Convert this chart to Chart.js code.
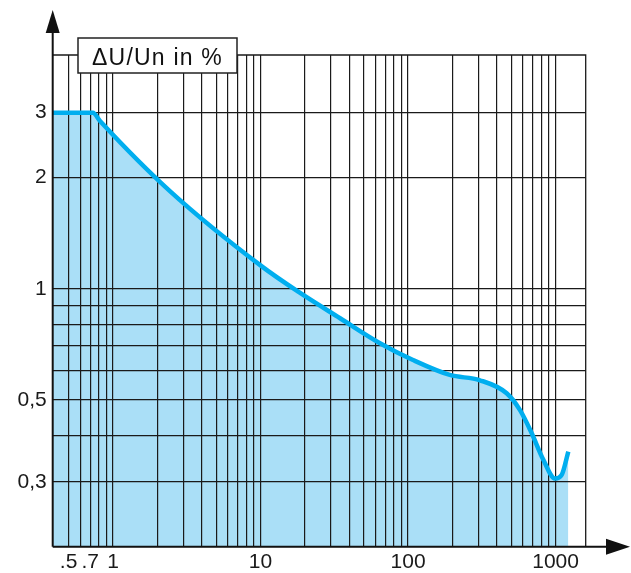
<!DOCTYPE html>
<html>
<head>
<meta charset="utf-8">
<script src="https://cdn.jsdelivr.net/npm/chart.js@4.4.1/dist/chart.umd.min.js"></script>
<style>
  html, body { margin: 0; padding: 0; background: #fff; }
  canvas { display: block; }
</style>
</head>
<body>
<canvas id="dropChart" width="631" height="573"></canvas>
<script>
// curve
const xValues = [0.39, 0.73, 0.816, 2.43, 10.2, 18.0, 34.6, 64.5, 108, 192, 307, 466, 574, 689, 826, 991, 1100, 1220];
const yValues = [3, 3, 2.85, 1.84, 1.15, 0.982, 0.832, 0.712, 0.641, 0.584, 0.565, 0.521, 0.469, 0.406, 0.344, 0.306, 0.313, 0.362];

// grid lines and tick labels
const xGrid = [0.5, 0.6, 0.7, 0.8, 0.9, 1, 2, 3, 4, 5, 6, 7, 8, 9, 10, 20, 30, 40, 50, 60, 70, 80, 90, 100, 200, 300, 400, 500, 600, 700, 800, 900, 1000];
const xTickValues = [0.5, 0.7, 1, 10, 100, 1000];
const xTickLabels = ['.5', '.7', '1', '10', '100', '1000'];
const yGrid = [0.3, 0.4, 0.5, 0.6, 0.7, 0.8, 0.9, 1, 2, 3];
const yTickValues = [0.3, 0.5, 1, 2, 3];
const yTickLabels = ['0,3', '0,5', '1', '2', '3'];

const titleText = '\u0394U/Un in %';
const fontFamily = '"Liberation Sans", Arial, sans-serif';

const ctx = document.getElementById('dropChart');

const framePlugin = {
    id: 'frame',
    afterDraw(chart) {
        const c = chart.ctx;
        const a = chart.chartArea;
        c.save();
        // top and right edges of the grid
        c.strokeStyle = '#1a1a1a';
        c.lineWidth = 1.3;
        c.beginPath();
        c.moveTo(a.left, a.top);
        c.lineTo(a.right, a.top);
        c.lineTo(a.right, a.bottom);
        c.stroke();
        // axes with arrows
        c.strokeStyle = '#111';
        c.lineWidth = 2;
        c.beginPath();
        c.moveTo(a.left, a.bottom);
        c.lineTo(a.left, 32);
        c.moveTo(a.left, a.bottom);
        c.lineTo(608, a.bottom);
        c.stroke();
        c.fillStyle = '#111';
        c.beginPath();
        c.moveTo(a.left, 10);
        c.lineTo(a.left - 7, 33);
        c.lineTo(a.left + 7, 33);
        c.closePath();
        c.fill();
        c.beginPath();
        c.moveTo(630, a.bottom);
        c.lineTo(606, a.bottom - 8);
        c.lineTo(606, a.bottom + 8);
        c.closePath();
        c.fill();
        // boxed title
        c.fillStyle = '#fff';
        c.fillRect(78, 38, 159, 35);
        c.lineWidth = 1.5;
        c.strokeStyle = '#222';
        c.strokeRect(78, 38, 159, 35);
        c.fillStyle = '#111';
        c.font = '23px ' + fontFamily;
        if ('letterSpacing' in c) c.letterSpacing = '1.2px';
        c.textAlign = 'center';
        c.textBaseline = 'alphabetic';
        c.fillText(titleText, 157.5, 65);
        c.restore();
    }
};

new Chart(ctx, {
    type: 'line',
    data: {
        datasets: [{
            data: xValues.map((x, i) => ({x: x, y: yValues[i]})),
            borderColor: '#00aeef',
            backgroundColor: '#aadff7',
            borderWidth: 4.5,
            pointRadius: 0,
            fill: 'start',
            cubicInterpolationMode: 'monotone'
        }]
    },
    options: {
        responsive: false,
        animation: false,
        layout: { padding: { top: 55, right: 45.3, bottom: 0, left: 0 } },
        plugins: {
            legend: { display: false },
            tooltip: { enabled: false },
            filler: { drawTime: 'beforeDraw' }
        },
        scales: {
            x: {
                type: 'logarithmic',
                min: 0.39,
                max: 1600,
                bounds: 'data',
                afterBuildTicks: (axis) => { axis.ticks = xGrid.map(v => ({value: v})); },
                afterFit: (axis) => { axis.height = 26.3; },
                border: { display: false },
                grid: { color: '#1a1a1a', lineWidth: 1.2, drawTicks: false },
                ticks: {
                    autoSkip: false,
                    maxRotation: 0,
                    padding: 3,
                    color: '#1a1a1a',
                    font: { family: fontFamily, size: 21 },
                    callback: (v) => {
                        const i = xTickValues.indexOf(v);
                        return i >= 0 ? xTickLabels[i] : '';
                    }
                }
            },
            y: {
                type: 'logarithmic',
                min: 0.2,
                max: 4.3,
                bounds: 'data',
                afterBuildTicks: (axis) => { axis.ticks = yGrid.map(v => ({value: v})); },
                afterFit: (axis) => { axis.width = 52.7; },
                border: { display: false },
                grid: { color: '#1a1a1a', lineWidth: 1.2, drawTicks: false },
                ticks: {
                    autoSkip: false,
                    padding: 6,
                    color: '#1a1a1a',
                    font: { family: fontFamily, size: 21 },
                    callback: (v) => {
                        const i = yTickValues.indexOf(v);
                        return i >= 0 ? yTickLabels[i] : '';
                    }
                }
            }
        }
    },
    plugins: [framePlugin]
});
</script>
</body>
</html>
